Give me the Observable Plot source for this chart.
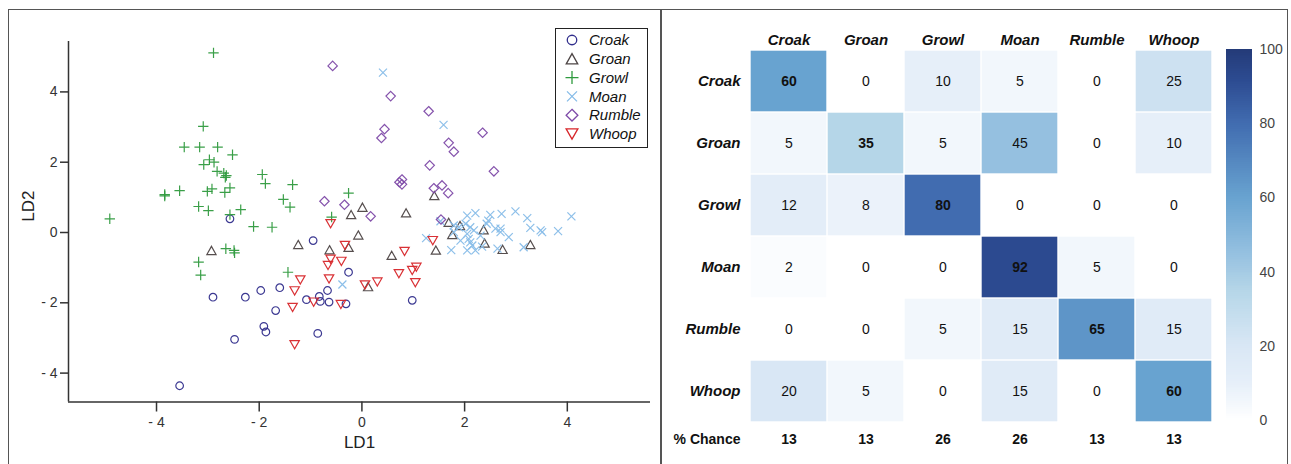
<!DOCTYPE html>
<html>
<head>
<meta charset="utf-8">
<script src="https://cdn.jsdelivr.net/npm/d3@7"></script>
<script src="https://cdn.jsdelivr.net/npm/@observablehq/plot@0.6"></script>
<style>
  body { margin: 0; background: #fff; font-family: "Liberation Sans", Arial, sans-serif; }
  #wrap { position: relative; width: 1291px; height: 464px; overflow: hidden; background: #fff; }
  #frame { position: absolute; left: 8px; top: 9px; width: 1280px; height: 470px; border: 1.5px solid #555; box-sizing: border-box; }
  #divider { position: absolute; left: 660px; top: 9px; width: 1.5px; height: 460px; background: #555; }
  #scatter, #heat, #bar { position: absolute; top: 0; }
  #scatter { left: 0; }
  #heat { left: 661px; }
  #bar { left: 1210px; }
  #legend { position: absolute; left: 555px; top: 28px; width: 93px; height: 120px; border: 1px solid #222; box-sizing: border-box; background: #fff; }
  #heat g[aria-label="x-axis tick label"], #heat g[aria-label="y-axis tick label"] { font-weight: bold; font-style: italic; }
</style>
</head>
<body>
<div id="wrap">
  <div id="frame"></div>
  <div id="divider"></div>
  <div id="scatter"></div>
  <div id="legend"></div>
  <div id="heat"></div>
  <div id="bar"></div>
</div>
<script>
// ---------------- DATA ----------------
const classes = ["Croak", "Groan", "Growl", "Moan", "Rumble", "Whoop"];

// LDA scores [LD1, LD2] per call type
const croak = [[-2.57,0.39],[-2.90,-1.84],[-2.27,-1.84],[-1.97,-1.65],[-1.60,-1.57],[-1.68,-2.22],[-1.91,-2.67],[-1.87,-2.83],[-2.48,-3.04],[-3.55,-4.36],[-0.95,-0.23],[-0.26,-1.13],[-1.08,-1.91],[-0.83,-1.82],[-0.81,-1.96],[-0.67,-1.65],[-0.64,-1.98],[-0.31,-2.03],[0.98,-1.93],[-0.86,-2.87]];
const groan = [[1.41,1.05],[-0.21,0.51],[0.01,0.72],[0.86,0.56],[1.69,0.29],[1.91,0.20],[-1.24,-0.34],[-0.07,-0.07],[-0.63,-0.49],[-0.26,-0.42],[0.58,-0.65],[1.44,-0.50],[0.12,-1.54],[1.76,-0.06],[2.37,0.08],[2.39,-0.30],[2.74,-0.48],[3.28,-0.34],[-2.93,-0.51]];
const growl = [[-2.89,5.11],[-3.09,3.02],[-3.46,2.43],[-3.16,2.43],[-2.81,2.43],[-2.52,2.21],[-2.97,2.07],[-3.08,1.93],[-2.88,2.00],[-2.82,1.74],[-2.69,1.69],[-2.66,1.57],[-2.64,1.62],[-1.94,1.65],[-1.88,1.39],[-1.35,1.36],[-1.53,0.94],[-1.40,0.72],[-3.84,1.08],[-3.84,1.04],[-3.55,1.19],[-3.01,1.17],[-2.92,1.24],[-2.67,1.14],[-2.57,1.27],[-3.18,0.74],[-2.99,0.62],[-2.36,0.65],[-4.91,0.39],[-2.11,0.17],[-1.75,0.15],[-2.57,0.51],[-2.65,-0.46],[-2.49,-0.51],[-2.48,-0.58],[-3.18,-0.84],[-3.14,-1.21],[-1.44,-1.13],[-0.26,1.12],[-0.59,0.44]];
const moan = [[0.41,4.55],[1.59,3.06],[1.25,-0.16],[1.74,-0.50],[2.05,0.48],[2.21,0.55],[2.50,0.50],[2.72,0.53],[2.99,0.60],[3.22,0.41],[4.08,0.46],[2.46,0.34],[2.43,0.25],[2.02,0.25],[2.11,0.15],[2.18,0.06],[2.05,-0.04],[2.08,-0.18],[2.11,-0.28],[2.15,-0.37],[2.05,-0.51],[2.21,-0.51],[2.60,0.11],[2.70,0.11],[2.70,0.01],[2.86,-0.13],[3.28,0.13],[3.48,0.06],[3.51,0.01],[3.82,0.04],[3.15,-0.42],[2.64,-0.46],[2.34,-0.40],[1.79,0.20],[1.89,0.15],[-0.38,-1.48],[1.79,0.01],[1.53,0.32],[2.31,-0.09],[1.92,-0.23]];
const rumble = [[-0.57,4.74],[0.56,3.88],[1.30,3.45],[0.44,2.94],[0.38,2.69],[1.69,2.55],[1.79,2.30],[1.32,1.91],[0.73,1.43],[0.78,1.51],[0.78,1.37],[1.40,1.26],[1.56,1.34],[1.68,1.12],[-0.73,0.89],[-0.34,0.79],[0.17,0.46],[1.54,0.37],[2.35,2.84],[2.57,1.74]];
const whoop = [[-0.61,0.25],[-0.33,-0.37],[0.83,-0.54],[1.38,-0.23],[-0.61,-0.76],[-0.40,-0.82],[-0.66,-0.94],[-1.20,-1.35],[-0.64,-1.32],[-1.31,-1.66],[-1.35,-2.13],[-0.94,-1.98],[-0.41,-2.05],[0.06,-1.49],[0.30,-1.41],[0.72,-1.17],[0.98,-1.08],[1.06,-0.99],[1.04,-1.43],[-1.31,-3.19]];

const axisTicks = [-4, -2, 0, 2, 4];

// Confusion matrix (% classified), rows = actual, columns = predicted
const confusion = [
  [60, 0, 10, 5, 0, 25],
  [5, 35, 5, 45, 0, 10],
  [12, 8, 80, 0, 0, 0],
  [2, 0, 0, 92, 5, 0],
  [0, 0, 5, 15, 65, 15],
  [20, 5, 0, 15, 0, 60]
];
const chance = [13, 13, 26, 26, 13, 13];
const colorTicks = [0, 20, 40, 60, 80, 100];

// ---------------- STYLE ----------------
const FONT = '"Liberation Sans", Arial, sans-serif';
const seriesColors = ["#312e8c", "#4d4545", "#2f9a3e", "#86bce8", "#7e4aa8", "#d7262a"];
const colorStops = [0, 5, 10, 20, 35, 45, 60, 80, 92, 100];
const colorRange = ["#ffffff", "#f2f7fc", "#e6eff9", "#d9e7f5", "#b5d6e8", "#95c0e0", "#68a3d0", "#416cb0", "#2c4a90", "#243a78"];
const colorScale = { type: "linear", domain: colorStops, range: colorRange, interpolate: "rgb" };

function mk(fn) {
  return { draw(ctx, size) { const k = Math.sqrt(size / (Math.PI * 16)); fn(ctx, k); } };
}
const symCircle = mk((c, k) => { const r = 3.8 * k; c.moveTo(r, 0); c.arc(0, 0, r, 0, 2 * Math.PI); c.closePath(); });
const symTriUp = mk((c, k) => { const w = 4.6 * k, h = 4.1 * k; c.moveTo(0, -h); c.lineTo(w, h); c.lineTo(-w, h); c.closePath(); });
const symPlus = mk((c, k) => { const a = 5.2 * k; c.moveTo(-a, 0); c.lineTo(a, 0); c.moveTo(0, -a); c.lineTo(0, a); });
const symTimes = mk((c, k) => { const a = 4 * k; c.moveTo(-a, -a); c.lineTo(a, a); c.moveTo(-a, a); c.lineTo(a, -a); });
const symDiamond = mk((c, k) => { const a = 4.7 * k; c.moveTo(0, -a); c.lineTo(a, 0); c.lineTo(0, a); c.lineTo(-a, 0); c.closePath(); });
const symTriDown = mk((c, k) => { const w = 4.7 * k, h = 4.1 * k; c.moveTo(-w, -h); c.lineTo(w, -h); c.lineTo(0, h); c.closePath(); });
const symbols = [symCircle, symTriUp, symPlus, symTimes, symDiamond, symTriDown];
const seriesData = [croak, groan, growl, moan, rumble, whoop];

const fmt = d => d < 0 ? "- " + Math.abs(d) : String(d);

// ---------------- SCATTER ----------------
const xDom = [-5.714, 5.62];
const yDom = [-4.822, 5.434];
const scatter = Plot.plot({
  width: 660, height: 464,
  marginLeft: 68, marginRight: 10, marginTop: 41, marginBottom: 62.5,
  x: { domain: xDom },
  y: { domain: yDom },
  style: { fontFamily: FONT, fontSize: "14px", color: "#333", background: "transparent", overflow: "visible" },
  marks: [
    Plot.axisX({ ticks: axisTicks, tickSize: 10, tickPadding: 5, tickFormat: fmt, label: null, strokeWidth: 1.5, fill: "#333", fontSize: 14 }),
    Plot.axisY({ ticks: axisTicks, tickSize: 8, tickPadding: 3, tickFormat: fmt, label: null, strokeWidth: 1.5, fill: "#333", fontSize: 14 }),
    Plot.ruleX([xDom[0]], { stroke: "#333", strokeWidth: 1.5 }),
    Plot.ruleY([yDom[0]], { stroke: "#333", strokeWidth: 1.5 }),
    ...seriesData.map((pts, i) => Plot.dot(pts, {
      x: d => d[0], y: d => d[1], r: 4, symbol: symbols[i],
      fill: "none", stroke: seriesColors[i], strokeWidth: 1.2, strokeOpacity: 0.95
    })),
    Plot.text(["LD1"], { frameAnchor: "bottom", dy: 46, fontSize: 17, fill: "#222" }),
    Plot.text(["LD2"], { frameAnchor: "left", dx: -40, rotate: -90, fontSize: 17, fill: "#222" })
  ]
});
document.getElementById("scatter").appendChild(scatter);

// legend
const lg = d3.select("#legend").append("svg").attr("width", 93).attr("height", 120).style("display", "block");
classes.forEach((c, i) => {
  const y = 11 + i * 18.8;
  const p = d3.path();
  symbols[i].draw(p, Math.PI * 16 * 1.25 * 1.25);
  lg.append("path").attr("d", p.toString()).attr("transform", `translate(16,${y})`)
    .attr("fill", "none").attr("stroke", seriesColors[i]).attr("stroke-width", 1.3);
  lg.append("text").attr("x", 33).attr("y", y).attr("dy", "0.35em").text(c)
    .style("font-style", "italic").style("font-size", "15px").style("font-family", FONT).attr("fill", "#111");
});

// ---------------- HEATMAP ----------------
const cells = [];
confusion.forEach((row, r) => row.forEach((v, c) => cells.push({ actual: classes[r], pred: classes[c], value: v, diag: r === c })));
const chanceRows = chance.map((v, i) => ({ pred: classes[i], value: v }));

const heat = Plot.plot({
  width: 630, height: 464,
  marginLeft: 87, marginRight: 77, marginTop: 48, marginBottom: 40,
  x: { domain: classes, padding: 0 },
  y: { domain: classes, padding: 0 },
  color: colorScale,
  style: { fontFamily: FONT, fontSize: "14px", color: "#111", background: "transparent", overflow: "visible" },
  marks: [
    Plot.cell(cells, { x: "pred", y: "actual", fill: "value", inset: 0.7 }),
    Plot.text(cells.filter(d => !d.diag), { x: "pred", y: "actual", text: d => String(d.value), fontSize: 14, fill: "#111" }),
    Plot.text(cells.filter(d => d.diag), { x: "pred", y: "actual", text: d => String(d.value), fontSize: 14, fontWeight: "bold", fill: "#111" }),
    Plot.axisX({ anchor: "top", tickSize: 0, tickPadding: 4, label: null, fontSize: 15, fontWeight: "bold", fontStyle: "italic", fill: "#111" }),
    Plot.axisY({ anchor: "left", tickSize: 0, tickPadding: 8, label: null, fontSize: 15, fontWeight: "bold", fontStyle: "italic", fill: "#111" }),
    Plot.text(chanceRows, { x: "pred", text: d => String(d.value), frameAnchor: "bottom", dy: 19, fontSize: 14, fontWeight: "bold", fill: "#111" }),
    Plot.text(["% Chance"], { frameAnchor: "bottom-left", dx: -8, dy: 19, textAnchor: "end", fontSize: 14, fontWeight: "bold", fill: "#111" })
  ]
});
document.getElementById("heat").appendChild(heat);

// ---------------- COLORBAR ----------------
const bar = Plot.plot({
  width: 81, height: 464,
  marginLeft: 16, marginRight: 39, marginTop: 49, marginBottom: 44,
  x: { domain: [0, 1], axis: null },
  y: { domain: [0, 100] },
  color: colorScale,
  style: { fontFamily: FONT, fontSize: "14px", color: "#444", background: "transparent", overflow: "visible" },
  marks: [
    Plot.rect(d3.range(0, 100, 0.5), { x1: 0, x2: 1, y1: d => d, y2: d => Math.min(100, d + 0.8), fill: d => d + 0.25, shapeRendering: "crispEdges" }),
    Plot.axisY({ anchor: "right", ticks: colorTicks, tickSize: 0, tickPadding: 7, label: null, fontSize: 14, fill: "#444" })
  ]
});
document.getElementById("bar").appendChild(bar);
</script>
</body>
</html>
